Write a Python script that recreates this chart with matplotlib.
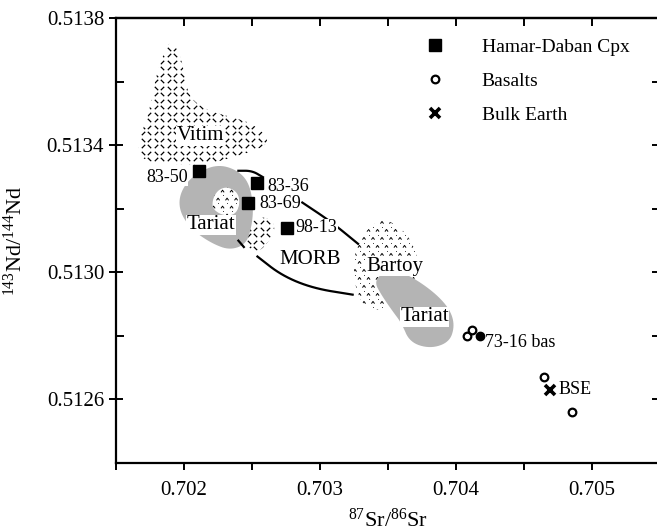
import numpy as np
import matplotlib.pyplot as plt
from matplotlib.patches import Polygon
from matplotlib.path import Path

plt.rcParams['font.family'] = ['Liberation Serif', 'DejaVu Serif']
plt.rcParams['mathtext.default'] = 'regular'

# Hamar-Daban clinopyroxenes
cpx_names = ['83-50', '83-36', '83-69', '98-13']
cpx_sr = [0.70211, 0.70254, 0.70247, 0.70276]
cpx_nd = [0.51332, 0.51328, 0.51322, 0.51314]

# basalts (open) and sample 73-16 (filled)
bas_sr = [0.70408, 0.70412, 0.70465, 0.70485]
bas_nd = [0.51280, 0.51282, 0.51267, 0.51256]
bas7316_sr = [0.70418]
bas7316_nd = [0.51280]

# bulk silicate earth
bse_sr = [0.70469]
bse_nd = [0.51263]

# fields (Sr, Nd) outlines
vitim = [(0.70190, 0.51373), (0.70197, 0.51369), (0.70201, 0.51361), (0.70204, 0.51355),
         (0.70217, 0.51351), (0.70234, 0.51349), (0.70250, 0.51347), (0.70263, 0.51342),
         (0.70257, 0.51339), (0.70234, 0.51336), (0.70217, 0.51334), (0.70193, 0.51334),
         (0.70168, 0.51335), (0.70166, 0.51342), (0.70172, 0.51347), (0.70176, 0.51354),
         (0.70179, 0.51361), (0.70185, 0.51369)]
tariat1 = [(0.70201, 0.51328), (0.70212, 0.51332), (0.70226, 0.51334), (0.70240, 0.51332),
           (0.70248, 0.51328), (0.70251, 0.51321), (0.70250, 0.51315), (0.70246, 0.51309),
           (0.70234, 0.51307), (0.70221, 0.51309), (0.70207, 0.51313), (0.70198, 0.51318),
           (0.70196, 0.51323)]
tariat1_hole = [(0.70221, 0.51323), (0.70225, 0.51326), (0.70232, 0.51327), (0.70240, 0.51325),
                (0.70241, 0.51321), (0.70237, 0.51318), (0.70228, 0.51318), (0.70221, 0.51320)]
morb = [(0.70258, 0.51318), (0.70268, 0.51315), (0.70263, 0.51310), (0.70254, 0.51306),
        (0.70244, 0.51309), (0.70247, 0.51315)]
bartoy = [(0.70346, 0.51317), (0.70356, 0.51315), (0.70364, 0.51312), (0.70370, 0.51307),
          (0.70373, 0.51302), (0.70369, 0.51297), (0.70359, 0.51294), (0.70351, 0.51290),
          (0.70343, 0.51288), (0.70333, 0.51289), (0.70327, 0.51294), (0.70325, 0.51299),
          (0.70325, 0.51304), (0.70328, 0.51310), (0.70336, 0.51314)]
tariat2 = [(0.70346, 0.51300), (0.70355, 0.51301), (0.70370, 0.51298), (0.70386, 0.51293),
           (0.70396, 0.51288), (0.70399, 0.51283), (0.70395, 0.51278), (0.70381, 0.51276),
           (0.70366, 0.51278), (0.70360, 0.51284), (0.70353, 0.51288), (0.70345, 0.51293),
           (0.70340, 0.51297)]

# MORB field boundary pieces
morb_top = [(0.70240, 0.51332), (0.70250, 0.51332), (0.70258, 0.51330)]
morb_right = [(0.70287, 0.51322), (0.70308, 0.51316), (0.70328, 0.51309)]
morb_low1 = [(0.70240, 0.51310), (0.70244, 0.51308)]
morb_low2 = [(0.70254, 0.51305), (0.70272, 0.51299), (0.70295, 0.51295), (0.70324, 0.51293)]

field_labels = ['Vitim', 'Tariat', 'MORB', 'Bartoy', 'Tariat']
field_lab_sr = [0.70212, 0.70220, 0.70293, 0.70355, 0.70377]
field_lab_nd = [0.51343, 0.51315, 0.51304, 0.51302, 0.51286]

XLIM = (0.7015, 0.7055)
YLIM = (0.5124, 0.5138)

fig = plt.figure(figsize=(6.57, 5.32), dpi=100)
ax = fig.add_axes([116 / 657, 1 - 463 / 532, 544 / 657, (463 - 18.3) / 532])
ax.set_xlim(*XLIM)
ax.set_ylim(*YLIM)

# pixel sizes in data units (for texture spacing)
PX = (XLIM[1] - XLIM[0]) / 544
PY = (YLIM[1] - YLIM[0]) / 444.7

slash = Path([(-1, -1), (1, 1)], [Path.MOVETO, Path.LINETO])
bslash = Path([(-1, 1), (1, -1)], [Path.MOVETO, Path.LINETO])
caret = Path([(-1, -0.7), (0, 0.7), (1, -0.7)], [Path.MOVETO, Path.LINETO, Path.LINETO])


def chaikin(pts, n=3, closed=True):
    a = np.array(pts, dtype=float)
    for _ in range(n):
        b = np.roll(a, -1, axis=0) if closed else a[1:]
        a0 = a if closed else a[:-1]
        q = 0.75 * a0 + 0.25 * b
        r = 0.25 * a0 + 0.75 * b
        new = np.empty((2 * len(q), 2))
        new[0::2] = q
        new[1::2] = r
        if not closed:
            new = np.vstack([a[:1], new, a[-1:]])
        a = new
    return a


def clip_patch(pts, fc='none', z=1):
    p = Polygon(chaikin(pts), closed=True, facecolor=fc, edgecolor='none', zorder=z)
    ax.add_patch(p)
    return p


def dash_texture(pts, z=2):
    p = clip_patch(pts, 'white', z)
    a = np.array(pts)
    xs = np.arange(a[:, 0].min() - 8 * PX, a[:, 0].max() + 8 * PX, 6.5 * PX)
    ys = np.arange(a[:, 1].min() - 8 * PY, a[:, 1].max() + 8 * PY, 6.5 * PY)
    gx, gy = np.meshgrid(xs, ys)
    ii, jj = np.meshgrid(np.arange(len(xs)), np.arange(len(ys)))
    m = (ii + jj) % 2 == 0
    for mask, mk in [(m, slash), (~m, bslash)]:
        sc = ax.scatter(gx[mask], gy[mask], marker=mk, s=6, c='black', linewidths=0.9, zorder=z)
        sc.set_clip_path(p)


def caret_texture(pts, fc='white', z=2):
    p = clip_patch(pts, fc, z)
    a = np.array(pts)
    xs = np.arange(a[:, 0].min() - 8 * PX, a[:, 0].max() + 8 * PX, 9 * PX)
    ys = np.arange(a[:, 1].min() - 8 * PY, a[:, 1].max() + 8 * PY, 8 * PY)
    gx, gy = np.meshgrid(xs, ys)
    jj = np.meshgrid(np.arange(len(xs)), np.arange(len(ys)))[1]
    gx = gx + (jj % 2) * 4.5 * PX
    sc = ax.scatter(gx.ravel(), gy.ravel(), marker=caret, s=5, facecolors='none',
                    edgecolors='black', linewidths=0.7, zorder=z)
    sc.set_clip_path(p)
    sc2 = ax.scatter(gx.ravel() + 4.5 * PX, gy.ravel() + 4 * PY, marker='.', s=1.2,
                     c='black', linewidths=0, zorder=z)
    sc2.set_clip_path(p)


dash_texture(vitim)
dash_texture(morb)
caret_texture(bartoy)
clip_patch(tariat1, '#b4b4b4', 3)
caret_texture(tariat1_hole, 'white', 3)
clip_patch(tariat2, '#b4b4b4', 3)

for seg in [morb_top, morb_right, morb_low1, morb_low2]:
    s = chaikin(seg, 3, closed=False)
    ax.plot(s[:, 0], s[:, 1], color='black', lw=1.6, zorder=4)

for t, x, y in zip(field_labels, field_lab_sr, field_lab_nd):
    ax.text(x, y, t, fontsize=15, ha='center', va='center', zorder=5,
            bbox=dict(facecolor='white', edgecolor='none', pad=0.3))

ax.plot(cpx_sr, cpx_nd, 's', color='black', ms=9, ls='none', zorder=6, label='Hamar-Daban Cpx')
ax.plot(bas_sr, bas_nd, 'o', mfc='white', mec='black', mew=1.6, ms=5.5, ls='none',
        zorder=6, label='Basalts')
ax.plot(bas7316_sr, bas7316_nd, 'o', color='black', ms=6, ls='none', zorder=6)
ax.plot(bse_sr, bse_nd, 'x', color='black', mew=2.6, ms=7, ls='none', zorder=6, label='Bulk Earth')

offs = {'83-50': (-8, -5, 'right'), '83-36': (7, -2, 'left'),
        '83-69': (8, -1, 'left'), '98-13': (6, 0, 'left')}
for n, x, y in zip(cpx_names, cpx_sr, cpx_nd):
    dx, dy, ha = offs[n]
    ax.annotate(n, (x, y), xytext=(dx, dy), textcoords='offset points', ha=ha, va='center',
                fontsize=13, zorder=7,
                bbox=dict(facecolor='white', edgecolor='none', pad=0.1))
ax.annotate('73-16 bas', (bas7316_sr[0], bas7316_nd[0]), xytext=(3, -5), textcoords='offset points',
            ha='left', va='center', fontsize=13, zorder=7)
ax.annotate('BSE', (bse_sr[0], bse_nd[0]), xytext=(6, 0), textcoords='offset points',
            ha='left', va='center', fontsize=13, zorder=7)

leg = ax.legend(loc='upper left', bbox_to_anchor=(0.5686, 0.955), frameon=False, fontsize=14,
                handlelength=1.0, handletextpad=1.9, labelspacing=0.85, borderpad=0,
                borderaxespad=0)

ax.set_xticks([0.702, 0.703, 0.704, 0.705])
ax.set_xticklabels(['0.702', '0.703', '0.704', '0.705'])
ax.set_xticks(np.arange(0.7015, 0.7055, 0.0005), minor=True)
ax.set_yticks([0.5126, 0.5130, 0.5134, 0.5138])
ax.set_yticklabels(['0.5126', '0.5130', '0.5134', '0.5138'])
ax.set_yticks(np.arange(0.5124, 0.5138, 0.0002), minor=True)
ax.tick_params(axis='x', which='both', direction='out', length=5, width=1.4, labelsize=15, pad=8)
ax.tick_params(axis='y', which='major', direction='inout', length=10, width=1.4, labelsize=15)
ax.tick_params(axis='y', which='minor', direction='in', length=6, width=1.4)

top = ax.secondary_xaxis('top')
top.set_xticks(np.arange(0.7020, 0.7055, 0.0005))
top.tick_params(direction='in', length=6, width=1.4, labeltop=False)
right = ax.secondary_yaxis('right')
right.set_yticks(np.arange(0.5126, 0.5138, 0.0002))
right.tick_params(direction='in', length=6, width=1.4, labelright=False)

for sp in ax.spines.values():
    sp.set_linewidth(1.6)
top.spines['top'].set_linewidth(1.6)
right.spines['right'].set_linewidth(1.6)

ax.set_xlabel(r'$^{87}$Sr/$^{86}$Sr', fontsize=16, labelpad=6)
ax.set_ylabel(r'$^{143}$Nd/$^{144}$Nd', fontsize=16, labelpad=14)

fig.savefig('out.png', dpi=100)
